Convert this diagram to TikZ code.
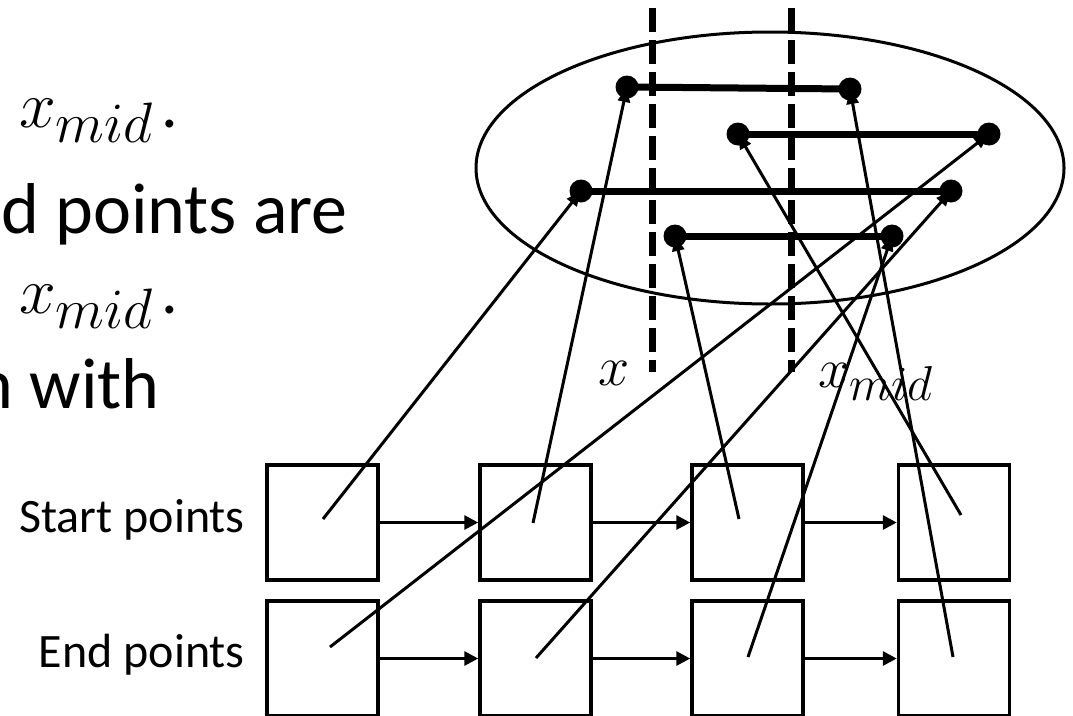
\RequirePackage{fix-cm}
\documentclass[tikz,border=0pt]{standalone}
\usepackage{fontspec}
\setmainfont{Carlito}
\usetikzlibrary{arrows.meta}
\begin{document}
\begin{tikzpicture}[x=1pt,y=-1pt,
  box/.style={draw, line width=3.5pt, minimum width=111pt, minimum height=115pt, inner sep=0pt},
  chain/.style={line width=3pt, -{Triangle[length=14pt,width=14pt]}},
  link/.style={line width=3pt, -{Triangle[length=15pt,width=12pt]}},
  seg/.style={line width=7pt},
  dot/.style={circle, fill=black, inner sep=0pt, minimum size=23pt},
  divider/.style={line width=7pt, dash pattern=on 24pt off 8pt},
  txt/.style={inner sep=0pt, font=\fontsize{72}{72}\selectfont},
  small/.style={inner sep=0pt, font=\fontsize{48}{48}\selectfont}
]
\useasboundingbox (0,0) rectangle (1073,715);

% left slide text (partially cut off)
\node[inner sep=0pt, anchor=base west] (t1) at (19,127)
  {\fontsize{66}{66}\selectfont$x$\raisebox{-15pt}{\fontsize{57}{57}\selectfont$mid$}\kern9pt.};
\node[txt, anchor=base east] (t2) at (348,233) {d points are};
\node[inner sep=0pt, anchor=base west] (t3) at (19,313)
  {\fontsize{66}{66}\selectfont$x$\raisebox{-15pt}{\fontsize{57}{57}\selectfont$mid$}\kern9pt.};
\node[txt, anchor=base east] (t4) at (160,408) {n with};

% ellipse
\draw[line width=3pt] (770,168) ellipse [x radius=294, y radius=136];

% dashed dividers
\coordinate (d1t) at (652,8);
\coordinate (d1b) at (652,372);
\coordinate (d2t) at (791,8);
\coordinate (d2b) at (791,372);
\draw[divider] (d1t) -- (d1b);
\draw[divider] (d2t) -- (d2b);

% divider labels
\node[inner sep=0pt, anchor=base west] (lx) at (598,385) {\fontsize{56}{56}\selectfont$x$};
\node[inner sep=0pt, anchor=base west] (lxm) at (818,387)
  {\fontsize{56}{56}\selectfont$x$\raisebox{-13pt}{\fontsize{49}{49}\selectfont$mid$}};

% segment end points
\coordinate (L1) at (627,87);  \coordinate (R1) at (850,89);
\coordinate (L2) at (738,134); \coordinate (R2) at (989,134);
\coordinate (L3) at (581,191); \coordinate (R3) at (951,191);
\coordinate (L4) at (675,236); \coordinate (R4) at (892,236);

\draw[seg] (L1) -- (R1);
\draw[seg] (L2) -- (R2);
\draw[seg] (L3) -- (R3);
\draw[seg] (L4) -- (R4);

% boxes
\node[box] (s1) at (322.5,522.5) {};
\node[box] (s2) at (535.5,522.5) {};
\node[box] (s3) at (747.5,522.5) {};
\node[box] (s4) at (954,522.5) {};
\node[box] (e1) at (322.5,658.5) {};
\node[box] (e2) at (535.5,658.5) {};
\node[box] (e3) at (747.5,658.5) {};
\node[box] (e4) at (954,658.5) {};

\draw[chain] (s1.east) -- (s2.west);
\draw[chain] (s2.east) -- (s3.west);
\draw[chain] (s3.east) -- (s4.west);
\draw[chain] (e1.east) -- (e2.west);
\draw[chain] (e2.east) -- (e3.west);
\draw[chain] (e3.east) -- (e4.west);

% row labels
\node[small, anchor=base east] (lstart) at (245,532) {Start points};
\node[small, anchor=base east] (lend) at (245,667) {End points};

% pointer origins inside boxes
\coordinate (ps1) at (323,519);
\coordinate (ps2) at (533,523);
\coordinate (ps3) at (739,519);
\coordinate (ps4) at (961,515);
\coordinate (pe1) at (330,647);
\coordinate (pe2) at (536,658);
\coordinate (pe3) at (748,657);
\coordinate (pe4) at (953,657);

\draw[link] (ps1) -- (L3);
\draw[link] (ps2) -- (L1);
\draw[link] (ps3) -- (L4);
\draw[link] (ps4) -- (L2);
\draw[link] (pe1) -- (R2);
\draw[link] (pe2) -- (R3);
\draw[link] (pe3) -- (R4);
\draw[link] (pe4) -- (R1);

% dots
\node[dot] (dL1) at (L1) {};
\node[dot] (dR1) at (R1) {};
\node[dot] (dL2) at (L2) {};
\node[dot] (dR2) at (R2) {};
\node[dot] (dL3) at (L3) {};
\node[dot] (dR3) at (R3) {};
\node[dot] (dL4) at (L4) {};
\node[dot] (dR4) at (R4) {};
\end{tikzpicture}
\end{document}
